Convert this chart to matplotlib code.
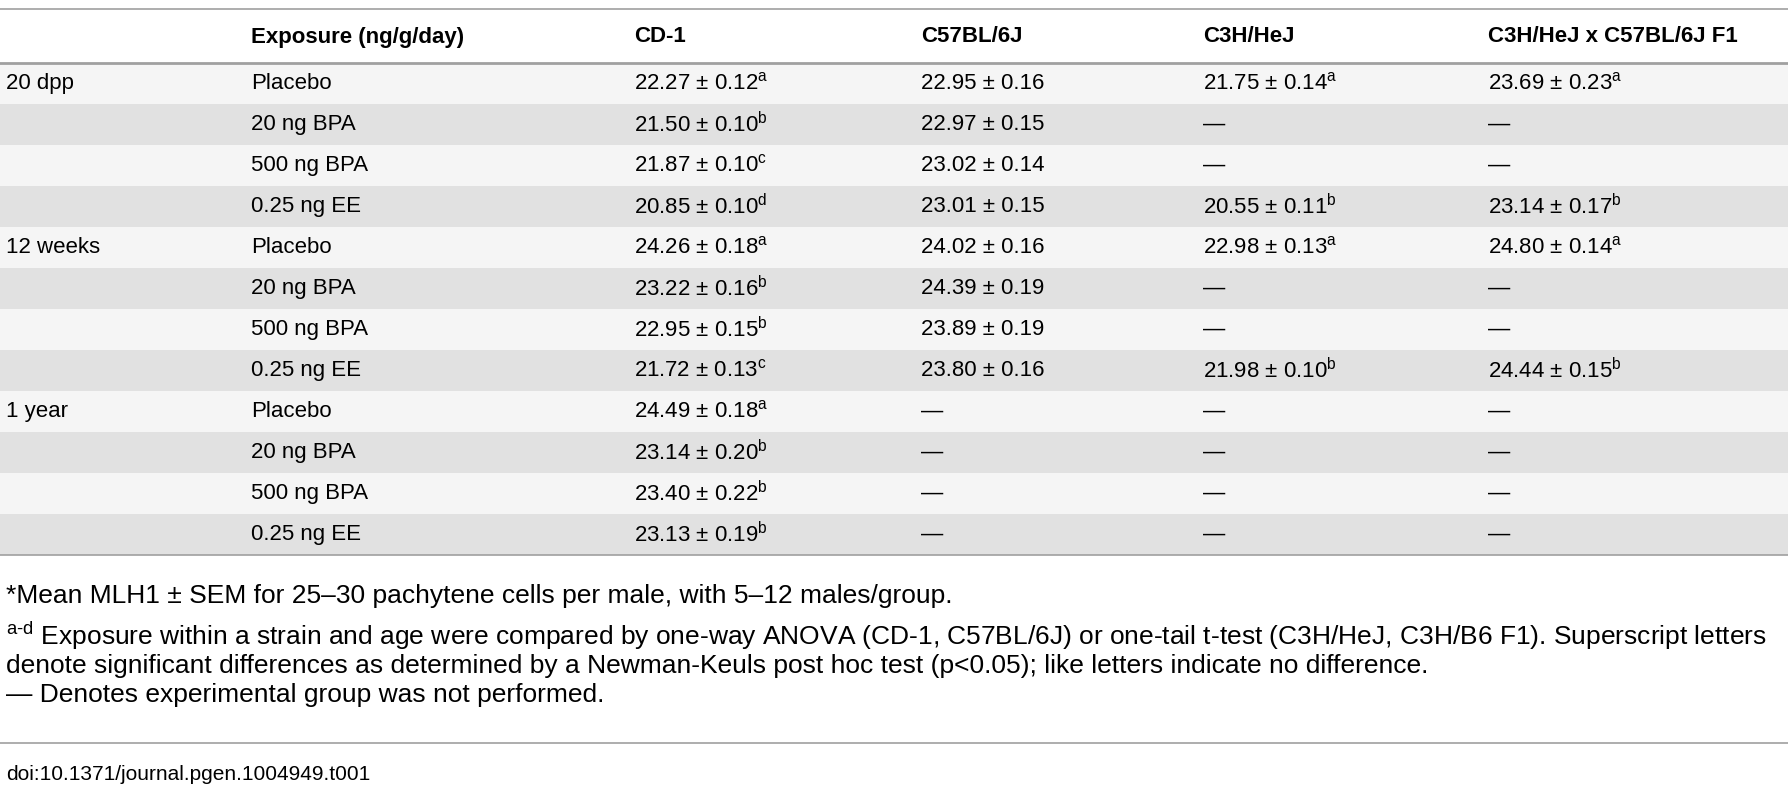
import matplotlib.pyplot as plt
from matplotlib.patches import Rectangle

plt.rcParams['font.family'] = ['Liberation Sans', 'DejaVu Sans']
plt.rcParams['mathtext.fontset'] = 'custom'
plt.rcParams['mathtext.rm'] = 'Liberation Sans'
plt.rcParams['mathtext.it'] = 'Liberation Sans'

headers = ["", "Exposure (ng/g/day)", "CD-1", "C57BL/6J", "C3H/HeJ", "C3H/HeJ x C57BL/6J F1"]
ages = ["20 dpp", "", "", "", "12 weeks", "", "", "", "1 year", "", "", ""]
exposures = ["Placebo", "20 ng BPA", "500 ng BPA", "0.25 ng EE"] * 3
cd1 = ["22.27 ± 0.12|a", "21.50 ± 0.10|b", "21.87 ± 0.10|c", "20.85 ± 0.10|d",
       "24.26 ± 0.18|a", "23.22 ± 0.16|b", "22.95 ± 0.15|b", "21.72 ± 0.13|c",
       "24.49 ± 0.18|a", "23.14 ± 0.20|b", "23.40 ± 0.22|b", "23.13 ± 0.19|b"]
c57 = ["22.95 ± 0.16", "22.97 ± 0.15", "23.02 ± 0.14", "23.01 ± 0.15",
       "24.02 ± 0.16", "24.39 ± 0.19", "23.89 ± 0.19", "23.80 ± 0.16",
       "—", "—", "—", "—"]
c3h = ["21.75 ± 0.14|a", "—", "—", "20.55 ± 0.11|b",
       "22.98 ± 0.13|a", "—", "—", "21.98 ± 0.10|b",
       "—", "—", "—", "—"]
f1 = ["23.69 ± 0.23|a", "—", "—", "23.14 ± 0.17|b",
      "24.80 ± 0.14|a", "—", "—", "24.44 ± 0.15|b",
      "—", "—", "—", "—"]
footnotes = [
    "*Mean MLH1 ± SEM for 25–30 pachytene cells per male, with 5–12 males/group.",
    r"$^{\mathrm{a\text{-}d}}$ Exposure within a strain and age were compared by one-way ANOVA (CD-1, C57BL/6J) or one-tail t-test (C3H/HeJ, C3H/B6 F1). Superscript letters",
    "denote significant differences as determined by a Newman-Keuls post hoc test (p<0.05); like letters indicate no difference.",
    "— Denotes experimental group was not performed.",
]
doi = "doi:10.1371/journal.pgen.1004949.t001"

W, H = 1788, 800
fig = plt.figure(figsize=(17.88, 8), dpi=100)
ax = fig.add_axes([0, 0, 1, 1])
ax.set_xlim(0, W)
ax.set_ylim(H, 0)
ax.axis('off')

col_x = [6, 251, 634, 921, 1203, 1488]
fs = 16
row_top = 63
row_h = 41
line_col = '#a0a0a0'


# 值|上标 -> 文字加上标
def fmt(s):
    if '|' in s:
        v, sup = s.split('|')
        return v + r'$^{\mathrm{' + sup + '}}$'
    return s


ax.plot([0, W], [9, 9], color=line_col, lw=1.2)
for x, h in zip(col_x, headers):
    ax.text(x, 37, h, fontsize=fs, fontweight='bold', va='center', ha='left')
ax.plot([0, W], [row_top, row_top], color=line_col, lw=2)

for i in range(len(exposures)):
    y0 = row_top + i * row_h
    ax.add_patch(Rectangle((0, y0), W, row_h, color='#f5f5f5' if i % 2 == 0 else '#e1e1e1', lw=0, zorder=0))
    yc = y0 + row_h / 2
    for x, val in zip(col_x, [ages[i], exposures[i], cd1[i], c57[i], c3h[i], f1[i]]):
        ax.text(x, yc, fmt(val), fontsize=fs, va='center', ha='left')

ybot = row_top + len(exposures) * row_h
ax.plot([0, W], [ybot, ybot], color=line_col, lw=1.2)

for y, t in zip([596, 636, 666, 695], footnotes):
    ax.text(6, y, t, fontsize=19, va='center', ha='left')

ax.plot([0, W], [743, 743], color=line_col, lw=1.2)
ax.text(6, 775, doi, fontsize=fs - 1, va='center', ha='left')

fig.savefig('out.png', dpi=100, facecolor='white')
